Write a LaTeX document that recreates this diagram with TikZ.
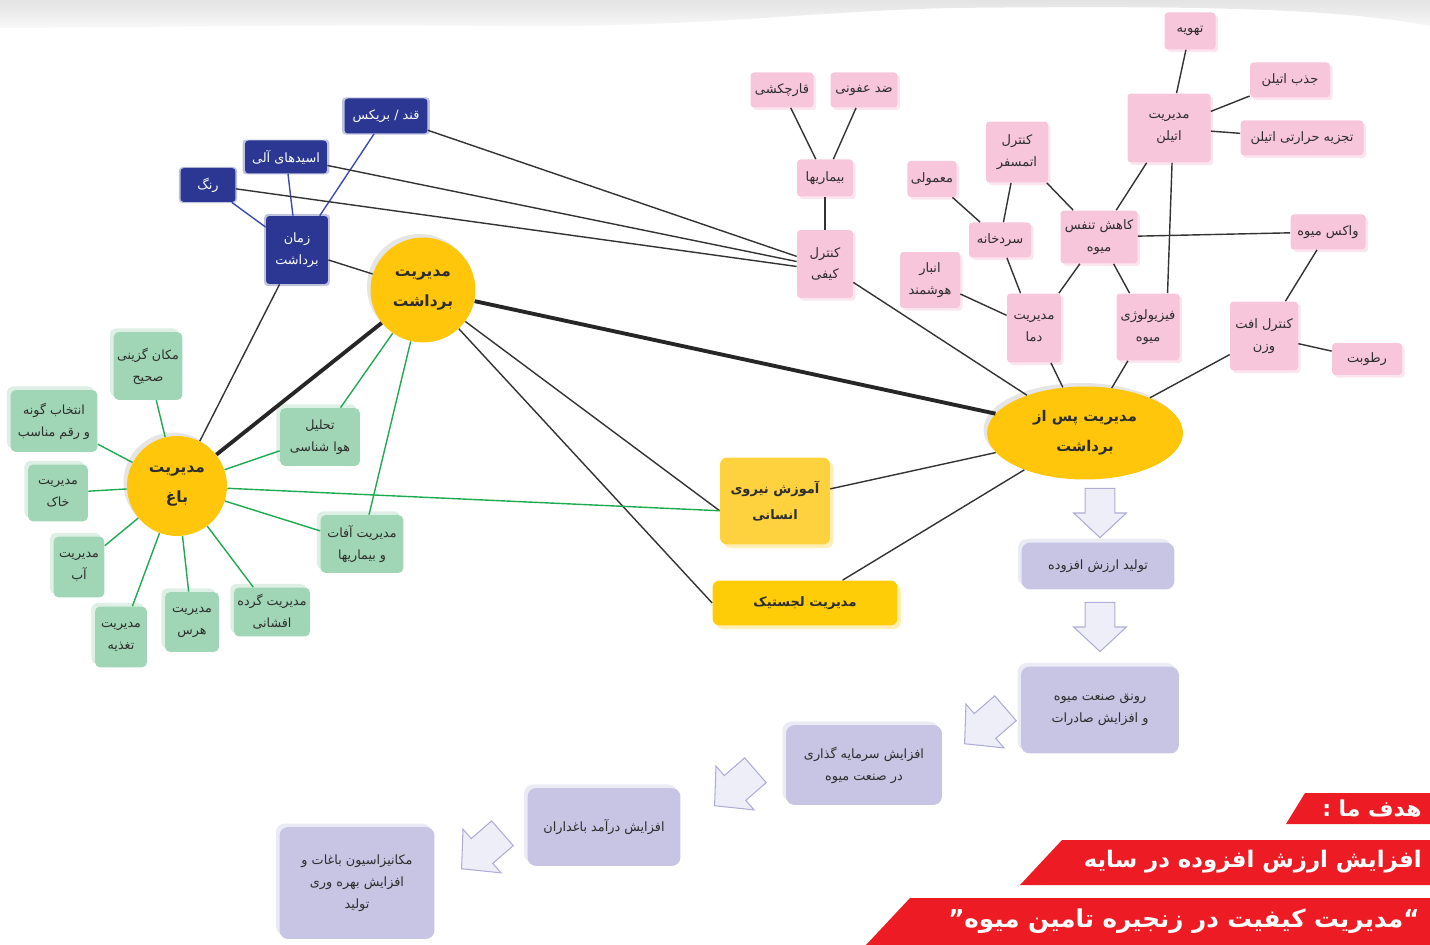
\documentclass[tikz,border=0pt]{standalone}
\usepackage{fontspec}
\newfontfamily\pfont[Script=Arabic]{DejaVu Sans}
\TeXXeTstate=1
\usetikzlibrary{shapes.geometric,shadows}
\newcommand\ptext[1]{\beginR#1\endR}
\definecolor{ylw}{RGB}{255,198,11}
\definecolor{ylwb}{RGB}{254,210,62}
\definecolor{ylwc}{RGB}{255,204,8}
\definecolor{grn}{RGB}{160,213,181}
\definecolor{pnk}{RGB}{247,198,218}
\definecolor{bluefill}{RGB}{43,55,146}
\definecolor{lav}{RGB}{199,197,227}
\definecolor{gline}{RGB}{30,170,80}
\definecolor{bline}{RGB}{60,75,180}
\definecolor{redb}{RGB}{237,28,36}
\definecolor{txt}{RGB}{45,45,45}
\definecolor{afill}{RGB}{238,238,248}
\definecolor{adraw}{RGB}{175,172,215}
\begin{document}
\begin{tikzpicture}[x=0.02cm,y=-0.02cm,
  every node/.style={align=center,text=txt,inner sep=2pt},
  circ/.style={circle,fill=ylw,minimum size=2.1cm,font=\pfont\bfseries\fontsize{8.8}{17}\selectfont,general shadow={fill=black!10,shadow xshift=-2pt,shadow yshift=2pt}},
  bbox/.style={rectangle,rounded corners=2pt,fill=bluefill,text=white,font=\pfont\fontsize{7.3}{12.5}\selectfont,general shadow={fill=bluefill!30,shadow scale=1.06}},
  gbox/.style={rectangle,rounded corners=3pt,fill=grn,font=\pfont\fontsize{7.2}{12.5}\selectfont,general shadow={fill=grn!35,shadow xshift=-2pt,shadow yshift=2pt}},
  pbox/.style={rectangle,rounded corners=2pt,fill=pnk,font=\pfont\fontsize{7.4}{12.5}\selectfont,general shadow={fill=pnk!45,shadow xshift=1.5pt,shadow yshift=-1.5pt}},
  vbox/.style={rectangle,rounded corners=5pt,fill=lav,font=\pfont\fontsize{7.3}{12.5}\selectfont,general shadow={fill=lav!35,shadow xshift=-2pt,shadow yshift=2pt}},
  ybox/.style={rectangle,rounded corners=4pt,font=\pfont\bfseries\fontsize{7.4}{15}\selectfont,general shadow={fill=ylw!30,shadow xshift=2pt,shadow yshift=-2pt}},
  ln/.style={draw=black!80,line width=0.8pt},
  thk/.style={draw=black!85,line width=2.2pt},
  gln/.style={draw=gline,line width=0.8pt},
  bln/.style={draw=bline,line width=0.8pt},
  btext/.style={text=white,anchor=east,inner sep=0pt,font=\pfont\bfseries\fontsize{13}{16}\selectfont},
  barrow/.pic={\draw[fill=afill,draw=adraw,line width=0.6pt] (-14pt,-8.5pt) -- (0pt,-8.5pt) -- (0pt,-15pt) -- (14pt,0pt) -- (0pt,15pt) -- (0pt,8.5pt) -- (-14pt,8.5pt) -- cycle;}]
\useasboundingbox (0,0) rectangle (1430,945);
% Top band
\shade[top color=gray!22,bottom color=gray!5] (0,0) -- (1430,0) -- (1430,26) .. controls (1330,6) and (1150,6) .. (950,8) .. controls (800,12) and (700,28) .. (500,26) .. controls (300,24) and (100,28) .. (0,28) -- cycle;
% Circles
\draw (423,290) node(c1)[circ] {\ptext{مدیریت}\\\ptext{برداشت}};
\draw (177,486) node(c2)[circ,minimum size=2cm] {\ptext{مدیریت}\\\ptext{باغ}};
\draw (1085,433) node(c3)[circ,ellipse,minimum width=3.92cm,minimum height=1.86cm,font=\pfont\bfseries\fontsize{8.4}{17}\selectfont] {\ptext{مدیریت پس از}\\\ptext{برداشت}};
% Yellow boxes
\draw (775,501) node(y1)[ybox,fill=ylwb,minimum width=2.2cm,minimum height=1.74cm] {\ptext{آموزش نیروی}\\\ptext{انسانی}};
\draw (805,603) node(y2)[ybox,fill=ylwc,minimum width=3.7cm,minimum height=0.9cm] {\ptext{مدیریت لجستیک}};
% Blue set
\draw (386,116) node(b1)[bbox,minimum width=1.66cm,minimum height=0.7cm] {\ptext{قند / بریکس}};
\draw (286,157) node(b2)[bbox,minimum width=1.64cm,minimum height=0.66cm] {\ptext{اسیدهای آلی}};
\draw (208,185) node(b3)[bbox,minimum width=1.1cm,minimum height=0.68cm] {\ptext{رنگ}};
\draw (297,250) node(b4)[bbox,minimum width=1.24cm,minimum height=1.36cm] {\ptext{زمان}\\\ptext{برداشت}};
% Green set
\draw (148,366) node(g1)[gbox,minimum width=1.36cm,minimum height=1.36cm] {\ptext{مکان گزینی}\\\ptext{صحیح}};
\draw (54,421) node(g2)[gbox,minimum width=1.74cm,minimum height=1.24cm] {\ptext{انتخاب گونه}\\\ptext{و رقم مناسب}};
\draw (58,493) node(g3)[gbox,minimum width=1.2cm,minimum height=1.14cm] {\ptext{مدیریت}\\\ptext{خاک}};
\draw (79,567) node(g4)[gbox,minimum width=1.02cm,minimum height=1.22cm] {\ptext{مدیریت}\\\ptext{آب}};
\draw (121,637) node(g5)[gbox,minimum width=1.04cm,minimum height=1.22cm] {\ptext{مدیریت}\\\ptext{تغذیه}};
\draw (192,622) node(g6)[gbox,minimum width=1.08cm,minimum height=1.2cm] {\ptext{مدیریت}\\\ptext{هرس}};
\draw (272,612) node(g7)[gbox,minimum width=1.5cm,minimum height=0.98cm] {\ptext{مدیریت گرده}\\\ptext{افشانی}};
\draw (362,544) node(g8)[gbox,minimum width=1.66cm,minimum height=1.16cm] {\ptext{مدیریت آفات}\\\ptext{و بیماریها}};
\draw (320,437) node(g9)[gbox,minimum width=1.6cm,minimum height=1.16cm] {\ptext{تحلیل}\\\ptext{هوا شناسی}};
% Pink set
\draw (782,90) node(p1)[pbox,minimum width=1.26cm,minimum height=0.7cm] {\ptext{قارچکشی}};
\draw (864,90) node(p2)[pbox,minimum width=1.34cm,minimum height=0.7cm] {\ptext{ضد عفونی}};
\draw (825,178) node(p3)[pbox,minimum width=1.12cm,minimum height=0.74cm] {\ptext{بیماریها}};
\draw (825,264) node(p4)[pbox,minimum width=1.12cm,minimum height=1.36cm] {\ptext{کنترل}\\\ptext{کیفی}};
\draw (1190,31) node(p5)[pbox,minimum width=1.02cm,minimum height=0.74cm] {\ptext{تهویه}};
\draw (1290,80) node(p6)[pbox,minimum width=1.6cm,minimum height=0.7cm] {\ptext{جذب اتیلن}};
\draw (1169,128) node(p7)[pbox,minimum width=1.66cm,minimum height=1.38cm] {\ptext{مدیریت}\\\ptext{اتیلن}};
\draw (1302,138) node(p8)[pbox,minimum width=2.46cm,minimum height=0.7cm] {\ptext{تجزیه حرارتی اتیلن}};
\draw (1017,152) node(p9)[pbox,minimum width=1.24cm,minimum height=1.22cm] {\ptext{کنترل}\\\ptext{اتمسفر}};
\draw (932,179) node(p10)[pbox,minimum width=0.94cm,minimum height=0.72cm] {\ptext{معمولی}};
\draw (1000,240) node(p11)[pbox,minimum width=1.24cm,minimum height=0.7cm] {\ptext{سردخانه}};
\draw (1099,237) node(p12)[pbox,minimum width=1.54cm,minimum height=1.06cm] {\ptext{کاهش تنفس}\\\ptext{میوه}};
\draw (1328,232) node(p13)[pbox,minimum width=1.5cm,minimum height=0.7cm] {\ptext{واکس میوه}};
\draw (930,280) node(p14)[pbox,minimum width=1.2cm,minimum height=1.12cm] {\ptext{انبار}\\\ptext{هوشمند}};
\draw (1034,328) node(p15)[pbox,minimum width=1.08cm,minimum height=1.38cm] {\ptext{مدیریت}\\\ptext{دما}};
\draw (1148,327) node(p16)[pbox,minimum width=1.26cm,minimum height=1.34cm] {\ptext{فیزیولوژی}\\\ptext{میوه}};
\draw (1264,336) node(p17)[pbox,minimum width=1.36cm,minimum height=1.38cm] {\ptext{کنترل افت}\\\ptext{وزن}};
\draw (1367,359) node(p18)[pbox,minimum width=1.4cm,minimum height=0.64cm] {\ptext{رطوبت}};
% Purple chain
\draw (1098,566) node(v1)[vbox,minimum width=3.06cm,minimum height=0.94cm] {\ptext{تولید ارزش افزوده}};
\draw (1100,710) node(v2)[vbox,minimum width=3.16cm,minimum height=1.74cm] {\ptext{رونق صنعت میوه}\\\ptext{و افزایش صادرات}};
\draw (864,765) node(v3)[vbox,minimum width=3.12cm,minimum height=1.6cm] {\ptext{افزایش سرمایه گذاری}\\\ptext{در صنعت میوه}};
\draw (604,827) node(v4)[vbox,minimum width=3.06cm,minimum height=1.56cm] {\ptext{افزایش درآمد باغداران}};
\draw (357,883) node(v5)[vbox,minimum width=3.1cm,minimum height=2.24cm] {\ptext{مکانیزاسیون باغات و}\\\ptext{افزایش بهره وری}\\\ptext{تولید}};
% Hollow arrows
\pic[rotate=-90] at (1100,513) {barrow};
\pic[rotate=-90] at (1100,627) {barrow};
\pic[rotate=-139,scale=1.1] at (985,726) {barrow};
\pic[rotate=-139,scale=1.1] at (735,788) {barrow};
\pic[rotate=-139,scale=1.1] at (482,851) {barrow};
% Red banners
\fill[redb] (1305,793) -- (1430,793) -- (1430,824) -- (1286,824) -- cycle;
\fill[redb] (1062,840) -- (1430,840) -- (1430,885) -- (1020,885) -- cycle;
\fill[redb] (910,898) -- (1430,898) -- (1430,945) -- (866,945) -- cycle;
\draw (1422,809) node(t1)[btext,font=\pfont\bfseries\fontsize{12.5}{16}\selectfont] {\ptext{هدف ما :}};
\draw (1422,862) node(t2)[btext] {\ptext{افزایش ارزش افزوده در سایه}};
\draw (1420,921) node(t3)[btext,font=\pfont\bfseries\fontsize{14}{17}\selectfont] {\ptext{“\kern0pt مدیریت کیفیت در زنجیره تامین میوه\kern0pt”}};
% Lines blue set
\draw[bln] (b1) -- (b4);
\draw[bln] (b2) -- (b4);
\draw[bln] (b3) -- (b4);
\draw[ln] (b1) -- (p4.165);
\draw[ln] (b2) -- (p4.175);
\draw[ln] (b3) -- (p4.185);
\draw[ln] (b4) -- (c1);
\draw[ln] (b4) -- (c2);
% Lines main
\draw[thk] (c2) -- (c1);
\draw[thk] (c1) -- (c3);
\draw[ln] (c1) -- (y1.190);
\draw[ln] (c1) -- (y2.west);
\draw[ln] (c3) -- (y1);
\draw[ln] (c3) -- (y2);
\draw[gln] (c2) -- (y1.190);
% Lines green set
\foreach \g in {g1,g2,g3,g4,g5,g6,g7,g8,g9}
  \draw[gln] (c2) -- (\g);
\draw[gln] (c1) -- (g9);
\draw[gln] (c1) -- (g8);
% Lines pink set
\draw[ln] (p1) -- (p3);
\draw[ln] (p2) -- (p3);
\draw[ln] (p3) -- (p4);
\draw[ln] (p4) -- (c3);
\draw[ln] (p5) -- (p7);
\draw[ln] (p6) -- (p7);
\draw[ln] (p8) -- (p7);
\draw[ln] (p7) -- (p12);
\draw[ln] (p7.275) -- (p16.60);
\draw[ln] (p9) -- (p11);
\draw[ln] (p9) -- (p12);
\draw[ln] (p10) -- (p11);
\draw[ln] (p11) -- (p15);
\draw[ln] (p12) -- (p15);
\draw[ln] (p12) -- (p16);
\draw[ln] (p12) -- (p13);
\draw[ln] (p14) -- (p15);
\draw[ln] (p13) -- (p17);
\draw[ln] (p17) -- (p18);
\draw[ln] (p15) -- (c3);
\draw[ln] (p16) -- (c3);
\draw[ln] (p17) -- (c3);
\end{tikzpicture}
\end{document}
